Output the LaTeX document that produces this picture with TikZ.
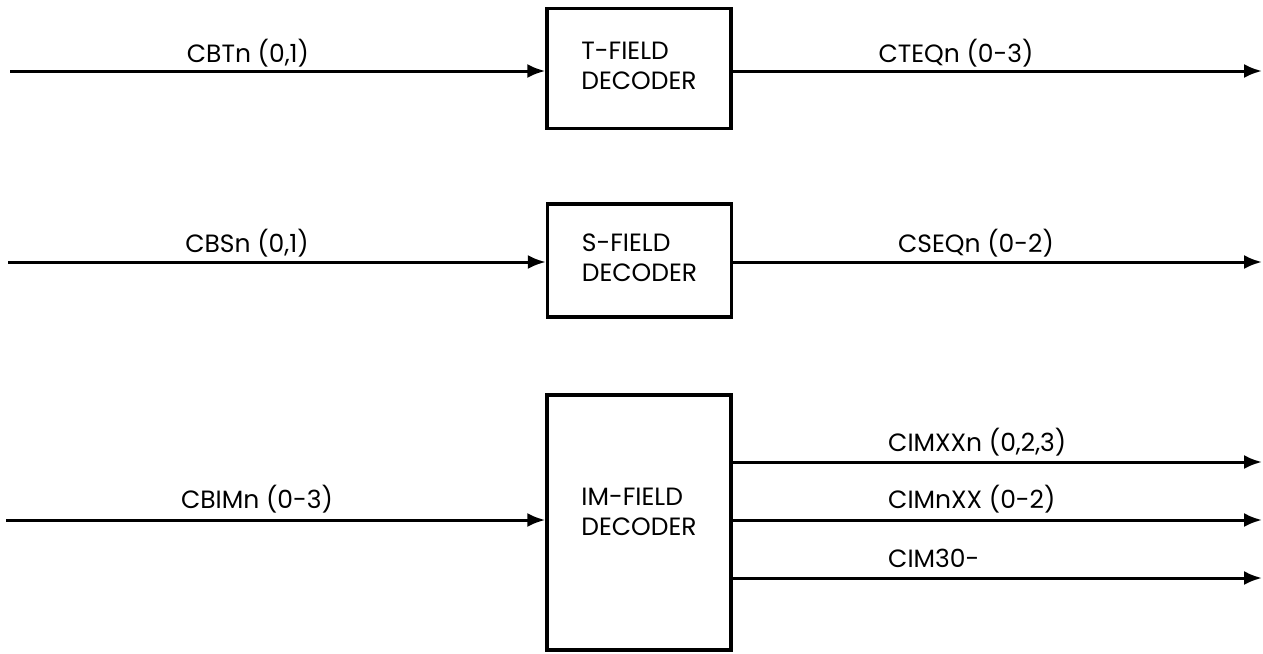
\documentclass[tikz,border=0pt]{standalone}
\usepackage{fontspec}
\setmainfont{Poppins}
\usetikzlibrary{arrows.meta}
\begin{document}
\begin{tikzpicture}[x=1pt,y=1pt,
  every node/.style={font=\fontsize{25}{30}\selectfont},
  decbox/.style={draw,line width=3.4pt,minimum width=184pt,inner sep=0pt},
  boxtext/.style={align=left,inner sep=0pt},
  sig/.style={line width=3pt,-{Latex[length=18pt,width=14pt]}},
  lab/.style={inner sep=0pt,anchor=base}]
\useasboundingbox (0,0) rectangle (1263,-653);
% boxes
\node[decbox,minimum height=120pt] (T) at (639,-68.5) {};
\node[decbox,minimum height=113pt] (S) at (639.5,-260.5) {};
\node[decbox,minimum height=255pt] (IM) at (639,-522.5) {};
\node[boxtext] (Tt) at ([yshift=3pt]T.center) {T-FIELD\\DECODER};
\node[boxtext] (St) at ([yshift=3pt]S.center) {S-FIELD\\DECODER};
\node[boxtext] (IMt) at ([yshift=11pt]IM.center) {IM-FIELD\\DECODER};
% end points
\coordinate (tin) at (10,-71);
\coordinate (tout) at (1262,-71);
\coordinate (sin) at (8,-262);
\coordinate (sout) at (1262,-262);
\coordinate (imin) at (6,-520);
\coordinate (oa) at (1262,-462);
\coordinate (ob) at (1262,-520);
\coordinate (oc) at (1262,-578);
% connectors
\draw[sig] (tin) -- (T.west |- tin);
\draw[sig] (T.east |- tout) -- (tout);
\draw[sig] (sin) -- (S.west |- sin);
\draw[sig] (S.east |- sout) -- (sout);
\draw[sig] (imin) -- (IM.west |- imin);
\draw[sig] (IM.east |- oa) -- (oa);
\draw[sig] (IM.east |- ob) -- (ob);
\draw[sig] (IM.east |- oc) -- (oc);
% labels
\node[lab] (l1) at (248,-62) {CBTn (0,1)};
\node[lab] (l2) at (956,-62) {CTEQn (0-3)};
\node[lab] (l3) at (247,-252) {CBSn (0,1)};
\node[lab] (l4) at (976,-252) {CSEQn (0-2)};
\node[lab] (l5) at (257,-508) {CBIMn (0-3)};
\node[lab,anchor=base west] (l6) at (888,-451) {CIMXXn (0,2,3)};
\node[lab,anchor=base west] (l7) at (888,-508) {CIMnXX (0-2)};
\node[lab,anchor=base west] (l8) at (888,-567) {CIM30-};
\end{tikzpicture}
\end{document}
